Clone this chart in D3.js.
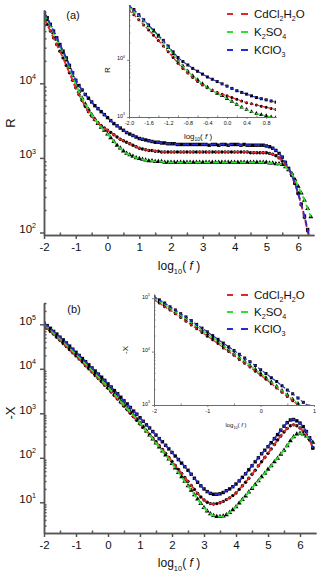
<!DOCTYPE html>
<html>
<head>
<meta charset="utf-8">
<script src="https://cdn.jsdelivr.net/npm/d3@7"></script>
<style>
  body { margin: 0; background: #fff; }
  svg { display: block; font-family: "Liberation Sans", Arial, sans-serif; }
</style>
</head>
<body>
<script>
// ! Size of the page
const width = 320;
const height = 574;

// ! Frequency grid, log10(f)
// prettier-ignore
const logF = [
  -2.0,-1.9,-1.8,-1.7,-1.6,-1.5,-1.4,-1.3,-1.2,-1.1,
  -1.0,-0.9,-0.8,-0.7,-0.6,-0.5,-0.4,-0.3,-0.2,-0.1,
   0.0, 0.1, 0.2, 0.3, 0.4, 0.5, 0.6, 0.7, 0.8, 0.9,
   1.0, 1.1, 1.2, 1.3, 1.4, 1.5, 1.6, 1.7, 1.8, 1.9,
   2.0, 2.1, 2.2, 2.3, 2.4, 2.5, 2.6, 2.7, 2.8, 2.9,
   3.0, 3.1, 3.2, 3.3, 3.4, 3.5, 3.6, 3.7, 3.8, 3.9,
   4.0, 4.1, 4.2, 4.3, 4.4, 4.5, 4.6, 4.7, 4.8, 4.9,
   5.0, 5.1, 5.2, 5.3, 5.4, 5.5, 5.6, 5.7, 5.8, 5.9,
   6.0, 6.1, 6.2, 6.3, 6.4];

// ! Panel (a): log10(R)
// prettier-ignore
const rCdCl = [
  4.87,4.79,4.70,4.61,4.52,4.43,4.34,4.24,4.14,4.04,
  3.94,3.85,3.77,3.69,3.62,3.56,3.51,3.47,3.43,3.40,
  3.37,3.34,3.31,3.28,3.25,3.23,3.21,3.19,3.17,3.15,
  3.13,3.12,3.11,3.10,3.10,3.09,3.09,3.08,3.08,3.08,
  3.08,3.08,3.08,3.08,3.08,3.08,3.08,3.08,3.08,3.08,
  3.08,3.08,3.08,3.08,3.08,3.08,3.08,3.08,3.08,3.08,
  3.08,3.08,3.08,3.08,3.08,3.07,3.07,3.07,3.07,3.07,
  3.07,3.06,3.05,3.03,3.00,2.96,2.91,2.85,2.77,2.66,
  2.52,2.37,2.20,2.02,1.84];
// prettier-ignore
const rK2SO4 = [
  4.93,4.85,4.77,4.68,4.59,4.50,4.41,4.31,4.21,4.10,
  3.99,3.89,3.80,3.72,3.65,3.58,3.52,3.46,3.41,3.37,
  3.32,3.27,3.22,3.17,3.13,3.09,3.06,3.04,3.02,3.00,
  2.99,2.98,2.97,2.96,2.96,2.95,2.95,2.95,2.94,2.94,
  2.94,2.94,2.94,2.94,2.94,2.94,2.94,2.94,2.94,2.94,
  2.94,2.94,2.94,2.94,2.94,2.94,2.94,2.94,2.94,2.94,
  2.94,2.94,2.94,2.94,2.94,2.94,2.94,2.94,2.94,2.94,
  2.94,2.93,2.93,2.92,2.92,2.91,2.88,2.84,2.79,2.71,
  2.62,2.53,2.43,2.32,2.21];
// prettier-ignore
const rKClO3 = [
  4.95,4.88,4.79,4.70,4.61,4.52,4.43,4.34,4.24,4.14,
  4.04,3.97,3.91,3.85,3.80,3.75,3.70,3.66,3.62,3.58,
  3.54,3.50,3.46,3.43,3.40,3.37,3.34,3.32,3.30,3.28,
  3.26,3.25,3.24,3.23,3.22,3.21,3.21,3.20,3.20,3.19,
  3.19,3.19,3.18,3.18,3.18,3.18,3.18,3.18,3.18,3.18,
  3.18,3.18,3.17,3.18,3.18,3.17,3.18,3.18,3.17,3.18,
  3.18,3.18,3.17,3.18,3.17,3.17,3.17,3.17,3.17,3.17,
  3.16,3.15,3.13,3.10,3.06,3.01,2.94,2.86,2.77,2.66,
  2.53,2.38,2.22,2.04,1.86];

// ! Panel (b): log10(-X)
// prettier-ignore
const xCdCl = [
  4.97,4.91,4.84,4.78,4.71,4.64,4.57,4.50,4.43,4.36,
  4.29,4.22,4.15,4.07,4.00,3.93,3.85,3.78,3.71,3.63,
  3.56,3.48,3.40,3.32,3.24,3.16,3.08,3.00,2.92,2.84,
  2.76,2.68,2.60,2.52,2.44,2.36,2.27,2.19,2.10,2.01,
  1.92,1.83,1.74,1.65,1.56,1.47,1.38,1.29,1.20,1.12,
  1.05,1.00,0.97,0.96,0.97,0.99,1.02,1.06,1.10,1.15,
  1.21,1.29,1.37,1.45,1.54,1.63,1.72,1.82,1.91,2.01,
  2.10,2.20,2.30,2.40,2.49,2.58,2.66,2.72,2.74,2.72,
  2.67,2.60,2.51,2.40,2.22];
// prettier-ignore
const xK2SO4 = [
  5.00,4.94,4.88,4.81,4.74,4.68,4.61,4.54,4.47,4.40,
  4.33,4.26,4.19,4.11,4.04,3.97,3.89,3.82,3.74,3.67,
  3.59,3.51,3.43,3.35,3.27,3.19,3.11,3.03,2.95,2.87,
  2.78,2.69,2.60,2.51,2.42,2.33,2.24,2.15,2.06,1.97,
  1.87,1.77,1.67,1.57,1.47,1.37,1.27,1.17,1.07,0.97,
  0.88,0.80,0.74,0.70,0.68,0.68,0.69,0.72,0.77,0.83,
  0.90,0.98,1.06,1.14,1.23,1.31,1.40,1.48,1.57,1.65,
  1.74,1.82,1.91,1.99,2.08,2.17,2.27,2.38,2.47,2.53,
  2.55,2.53,2.49,2.43,2.35];
// prettier-ignore
const xKClO3 = [
  5.03,4.97,4.91,4.84,4.78,4.71,4.65,4.58,4.51,4.44,
  4.37,4.30,4.23,4.16,4.09,4.02,3.95,3.88,3.81,3.74,
  3.66,3.59,3.51,3.44,3.36,3.28,3.21,3.13,3.05,2.98,
  2.90,2.82,2.74,2.67,2.59,2.51,2.43,2.36,2.28,2.20,
  2.12,2.04,1.96,1.88,1.80,1.72,1.63,1.54,1.45,1.37,
  1.30,1.24,1.20,1.18,1.18,1.19,1.22,1.26,1.30,1.35,
  1.41,1.48,1.56,1.64,1.73,1.82,1.91,2.00,2.09,2.17,
  2.25,2.34,2.43,2.52,2.62,2.71,2.79,2.85,2.86,2.83,
  2.78,2.70,2.59,2.45,2.22];

// ! Series: names (with subscripts), colours, markers
const seriesNames = [
  [["CdCl", "n"], ["2", "s"], ["H", "n"], ["2", "s"], ["O", "n"]],
  [["K", "n"], ["2", "s"], ["SO", "n"], ["4", "s"]],
  [["KClO", "n"], ["3", "s"]],
];
const seriesColors = ["#e2262b", "#2ee02e", "#2a2ad2"];
const seriesMarkers = ["circle", "triangle", "square"];

// ! Tick values
const xTicksMain = [-2, -1, 0, 1, 2, 3, 4, 5, 6];
const rDecades = [1e2, 1e3, 1e4];
const xDecades = [1e1, 1e2, 1e3, 1e4, 1e5];
const insetATicks = [-2.0, -1.6, -1.2, -0.8, -0.4, 0.0, 0.4, 0.8];
const insetBTicks = [-2, -1, 0, 1];
const insetADecades = [1e3, 1e4];
const insetBDecades = [1e3, 1e4, 1e5];

const svg = d3
  .select("body")
  .append("svg")
  .attr("width", width)
  .attr("height", height);

// ! Text with sub / superscripts
function richText(sel, parts, fs) {
  let shift = 0;
  parts.forEach(([t, k]) => {
    const target = k === "s" ? fs * 0.3 : k === "^" ? -fs * 0.42 : 0;
    const ts = sel.append("tspan").attr("dy", target - shift).text(t);
    if (k === "s" || k === "^") ts.attr("font-size", fs * 0.62);
    if (k === "i") ts.attr("font-style", "italic");
    shift = target;
  });
  return sel;
}

function minorLog(dom) {
  const out = [];
  for (let e = -1; e <= 6; e++) {
    for (let m = 2; m <= 9; m++) {
      const v = m * Math.pow(10, e);
      if (v > dom[0] && v < dom[1]) out.push(v);
    }
  }
  return out;
}

// ! One panel: curves + axes
function drawPanel(cfg) {
  const x = d3.scaleLinear().domain(cfg.xDom).range(cfg.xRange);
  const y = d3.scaleLog().domain(cfg.yDom).range(cfg.yRange);
  const g = svg.append("g");

  svg
    .append("clipPath")
    .attr("id", cfg.id)
    .append("rect")
    .attr("x", cfg.xRange[0])
    .attr("y", cfg.yRange[1])
    .attr("width", cfg.xRange[1] - cfg.xRange[0])
    .attr("height", cfg.yRange[0] - cfg.yRange[1]);

  const plot = g.append("g").attr("clip-path", `url(#${cfg.id})`);
  const n = logF.filter((f) => f <= cfg.xDom[1] + 1e-9).length;
  const sets = cfg.series.map((vals) =>
    logF.slice(0, n).map((f, j) => [f, Math.pow(10, vals[j])])
  );
  const ms = cfg.ms;

  // markers
  sets.forEach((pts, i) => {
    const type = seriesMarkers[i];
    const sel = plot.append("g").attr("fill", "#000");
    if (type === "square") {
      sel
        .selectAll("rect")
        .data(pts)
        .enter()
        .append("rect")
        .attr("x", (d) => x(d[0]) - ms / 2)
        .attr("y", (d) => y(d[1]) - ms / 2)
        .attr("width", ms)
        .attr("height", ms);
    } else if (type === "circle") {
      sel
        .selectAll("circle")
        .data(pts)
        .enter()
        .append("circle")
        .attr("cx", (d) => x(d[0]))
        .attr("cy", (d) => y(d[1]))
        .attr("r", ms / 2);
    } else {
      sel
        .selectAll("path")
        .data(pts)
        .enter()
        .append("path")
        .attr("d", d3.symbol(d3.symbolTriangle, ms * ms * 0.9))
        .attr("transform", (d) => `translate(${x(d[0])},${y(d[1])})`);
    }
  });

  // dashed fit lines
  const line = d3
    .line()
    .x((d) => x(d[0]))
    .y((d) => y(d[1]));
  sets.forEach((pts, i) => {
    plot
      .append("path")
      .datum(pts)
      .attr("d", line)
      .attr("fill", "none")
      .attr("stroke", seriesColors[i])
      .attr("stroke-width", cfg.lw)
      .attr("stroke-dasharray", cfg.dash);
  });

  // axes
  const axCol = cfg.axisColor;
  const bottom = cfg.yRange[0];
  const left = cfg.xRange[0];

  const xMinor = g
    .append("g")
    .attr("transform", `translate(0,${bottom})`)
    .call(
      d3.axisBottom(x).tickValues(cfg.xMinor).tickSize(-cfg.minor).tickSizeOuter(0).tickFormat("")
    );
  const xAx = g
    .append("g")
    .attr("transform", `translate(0,${bottom})`)
    .call(
      d3
        .axisBottom(x)
        .tickValues(cfg.xTicks)
        .tickSize(cfg.major)
        .tickSizeOuter(0)
        .tickPadding(cfg.pad)
        .tickFormat(cfg.xFmt)
    );
  xAx.selectAll(".tick text").attr("font-size", cfg.fs).attr("fill", "#111");

  const yMinor = g
    .append("g")
    .attr("transform", `translate(${left},0)`)
    .call(
      d3.axisLeft(y).tickValues(minorLog(cfg.yDom)).tickSize(-cfg.minor).tickSizeOuter(0).tickFormat("")
    );
  const yAx = g
    .append("g")
    .attr("transform", `translate(${left},0)`)
    .call(
      d3
        .axisLeft(y)
        .tickValues(cfg.yTicks)
        .tickSize(cfg.major)
        .tickSizeOuter(0)
        .tickPadding(cfg.pad)
        .tickFormat("")
    );
  yAx
    .selectAll(".tick text")
    .attr("font-size", cfg.fs)
    .attr("fill", "#111")
    .each(function (d) {
      richText(d3.select(this), [["10", "n"], [String(Math.round(Math.log10(d))), "^"]], cfg.fs);
    });

  [xMinor, xAx, yMinor, yAx].forEach((a) => {
    a.selectAll("path, line").attr("stroke", axCol).attr("stroke-width", cfg.aw);
  });

  // axis titles
  richText(
    g
      .append("text")
      .attr("x", cfg.xTitle[0])
      .attr("y", cfg.xTitle[1])
      .attr("text-anchor", "middle")
      .attr("font-size", cfg.tfs)
      .attr("fill", "#111"),
    [["log", "n"], ["10", "s"], ["( ", "n"], ["f", "i"], [" )", "n"]],
    cfg.tfs
  );
  g.append("text")
    .attr("transform", `translate(${cfg.yTitle[0]},${cfg.yTitle[1]}) rotate(-90)`)
    .attr("text-anchor", "middle")
    .attr("font-size", cfg.yfs)
    .attr("fill", "#111")
    .text(cfg.yLabel);
  return g;
}

function legend(rows) {
  const g = svg.append("g");
  rows.forEach((yy, i) => {
    [[227, 233], [241, 248]].forEach(([a, b]) => {
      g.append("line")
        .attr("x1", a)
        .attr("x2", b)
        .attr("y1", yy)
        .attr("y2", yy)
        .attr("stroke", seriesColors[i])
        .attr("stroke-width", 2);
    });
    richText(
      g
        .append("text")
        .attr("x", 254)
        .attr("y", yy + 4)
        .attr("font-size", 11.5)
        .attr("fill", "#111"),
      seriesNames[i],
      11.5
    );
  });
}

const fmtInt = (d) => String(d);
const fmt1 = (d) => d.toFixed(1);

// ! Panel (a) main
drawPanel({
  id: "clipA",
  xDom: [-2, 6.5], xRange: [44, 314],
  yDom: [92.6, 96000], yRange: [235, 10],
  series: [rCdCl, rK2SO4, rKClO3],
  ms: 3.4, lw: 1.8, dash: "6,3",
  xTicks: xTicksMain, xMinor: [-1.5, -0.5, 0.5, 1.5, 2.5, 3.5, 4.5, 5.5],
  yTicks: rDecades, xFmt: fmtInt,
  major: 4, minor: 2.5, pad: 4, fs: 11.5, aw: 1.5, axisColor: "#555",
  xTitle: [179, 270], tfs: 12, yTitle: [15, 123], yfs: 13, yLabel: "R",
});

// ! Inset (a)
drawPanel({
  id: "clipAi",
  xDom: [-2, 1], xRange: [129, 276],
  yDom: [1000, 91000], yRange: [117, 5],
  series: [rCdCl, rK2SO4, rKClO3],
  ms: 3, lw: 1.2, dash: "4,2",
  xTicks: insetATicks, xMinor: [-1.8, -1.4, -1.0, -0.6, -0.2, 0.2, 0.6],
  yTicks: insetADecades, xFmt: fmt1,
  major: 2, minor: 1.5, pad: 2, fs: 5.5, aw: 0.8, axisColor: "#666",
  xTitle: [198, 139], tfs: 8, yTitle: [110, 70], yfs: 8, yLabel: "R",
});

// ! Panel (b) main
drawPanel({
  id: "clipB",
  xDom: [-2, 6.5], xRange: [44, 316],
  yDom: [2.04, 301000], yRange: [533, 303],
  series: [xCdCl, xK2SO4, xKClO3],
  ms: 3.4, lw: 1.8, dash: "6,3",
  xTicks: xTicksMain, xMinor: [-1.5, -0.5, 0.5, 1.5, 2.5, 3.5, 4.5, 5.5],
  yTicks: xDecades, xFmt: fmtInt,
  major: 4, minor: 2.5, pad: 4, fs: 11.5, aw: 1.5, axisColor: "#555",
  xTitle: [179, 567], tfs: 12, yTitle: [15, 413], yfs: 13, yLabel: "-X",
});

// ! Inset (b)
drawPanel({
  id: "clipBi",
  xDom: [-2, 1], xRange: [154, 314],
  yDom: [1000, 120000], yRange: [405, 294],
  series: [xCdCl, xK2SO4, xKClO3],
  ms: 3, lw: 1.2, dash: "4,2",
  xTicks: insetBTicks, xMinor: [-1.5, -0.5, 0.5],
  yTicks: insetBDecades, xFmt: fmtInt,
  major: 2, minor: 1.5, pad: 2, fs: 5.5, aw: 0.8, axisColor: "#666",
  xTitle: [236, 427], tfs: 6, yTitle: [128, 350], yfs: 8, yLabel: "-X",
});

// ! Panel labels and legends
svg.append("text").attr("x", 73).attr("y", 19).attr("text-anchor", "middle")
  .attr("font-size", 11).attr("fill", "#111").text("(a)");
svg.append("text").attr("x", 74).attr("y", 313).attr("text-anchor", "middle")
  .attr("font-size", 11).attr("fill", "#111").text("(b)");

legend([14, 32, 50]);
legend([295, 312, 329]);
</script>
</body>
</html>
